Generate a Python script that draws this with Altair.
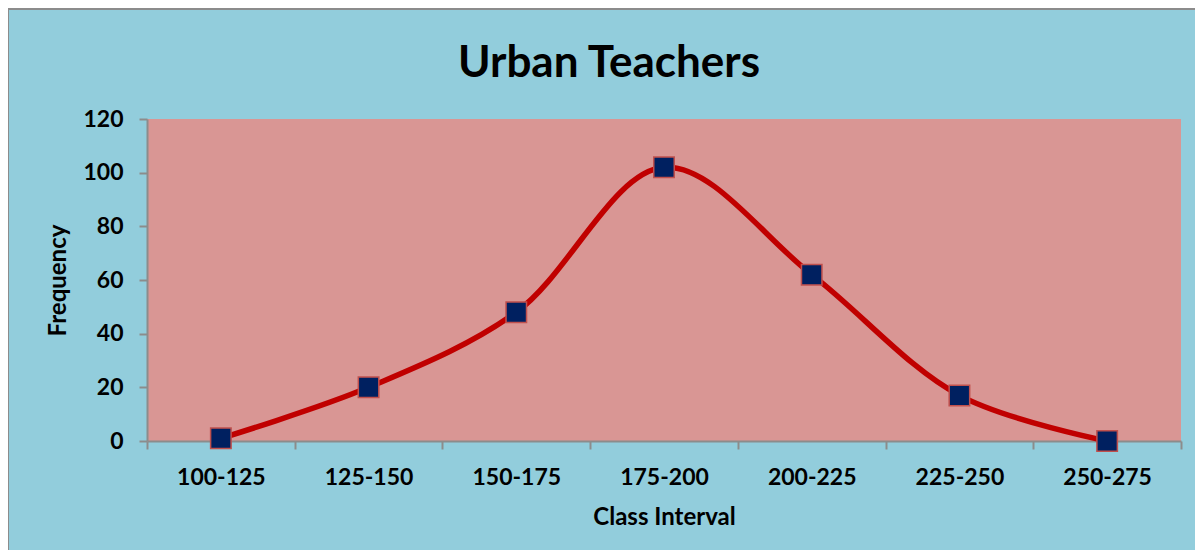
import altair as alt
import pandas as pd

categories = ["100-125", "125-150", "150-175", "175-200", "200-225", "225-250", "250-275"]
frequency = [1, 20, 48, 102, 62, 17, 0]
title_text = ["Urban Teachers"]

df = pd.DataFrame({"interval": categories, "freq": frequency})
tdf = pd.DataFrame({"t": title_text})

FONT = "Lato"
W, H = 1034, 322
PAD = {"left": 139, "top": 111, "right": 14, "bottom": 109}

x_enc = alt.X(
    "interval:N",
    sort=categories,
    bandPosition=0.5,
    scale=alt.Scale(type="band", paddingInner=0, paddingOuter=0),
    axis=alt.Axis(
        title="Class Interval",
        labelAngle=0,
        tickBand="extent",
        labelFont=FONT, labelFontSize=23, labelFontWeight="bold", labelColor="black",
        labelPadding=17,
        titleFont=FONT, titleFontSize=24, titleFontWeight="bold", titleColor="black",
        titlePadding=16,
        domainColor="#8c8c8c", tickColor="#8c8c8c", domainWidth=2, tickWidth=2, tickSize=8,
    ),
)
y_enc = alt.Y(
    "freq:Q",
    scale=alt.Scale(domain=[0, 120], nice=False),
    axis=alt.Axis(
        title="Frequency",
        values=[0, 20, 40, 60, 80, 100, 120],
        grid=False,
        labelFont=FONT, labelFontSize=23, labelFontWeight="bold", labelColor="black",
        labelPadding=16,
        titleFont=FONT, titleFontSize=24, titleFontWeight="bold", titleColor="black",
        titlePadding=12,
        domainColor="#8c8c8c", tickColor="#8c8c8c", domainWidth=2, tickWidth=2, tickSize=8,
    ),
)

line = alt.Chart(df).mark_line(
    color="#C00000", strokeWidth=5.5, interpolate="catmull-rom"
).encode(x=x_enc, y=y_enc)

pts = alt.Chart(df).mark_point(
    shape="square", filled=True, fill="#002060", stroke="#C0504D",
    strokeWidth=1.5, size=420, opacity=1
).encode(x=x_enc, y=y_enc)

title = alt.Chart(tdf).mark_text(
    font=FONT, fontSize=44, fontWeight="bold", color="black",
    align="center", baseline="alphabetic",
).encode(text="t:N", x=alt.value(462), y=alt.value(-42))

border_top = alt.Chart(tdf).mark_rule(color="#8c8c8c", strokeWidth=2).encode(
    x=alt.value(-PAD["left"]), x2=alt.value(W + PAD["right"]),
    y=alt.value(-PAD["top"] + 1),
)
border_left = alt.Chart(tdf).mark_rule(color="#8c8c8c", strokeWidth=2).encode(
    x=alt.value(-PAD["left"]), y=alt.value(-PAD["top"]),
    y2=alt.value(H + PAD["bottom"]),
)

chart = alt.layer(line, pts, title, border_top, border_left).properties(
    width=W, height=H,
    autosize=alt.AutoSizeParams(type="none"),
    padding=PAD,
    background="#92CDDC",
).configure_view(fill="#D99694", stroke=None)

chart.save("out.html", embed_options={"renderer": "svg", "actions": False})
